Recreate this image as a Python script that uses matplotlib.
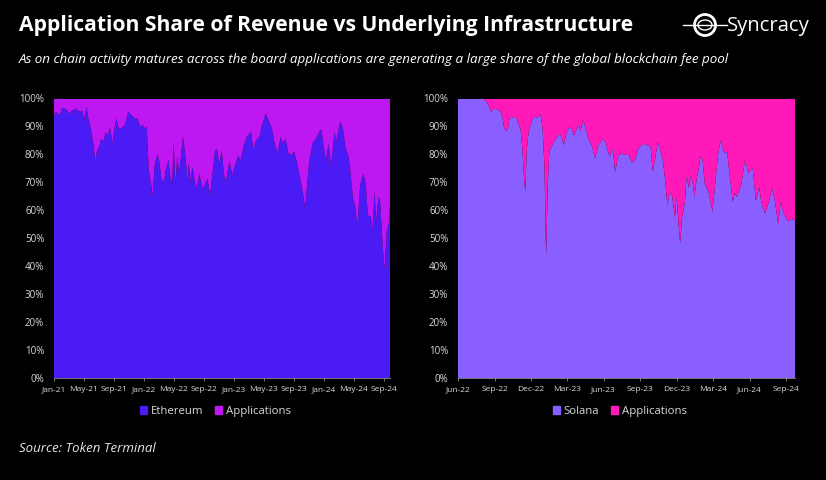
import matplotlib
matplotlib.use('Agg')
import matplotlib.pyplot as plt
import matplotlib.dates as mdates
import matplotlib.patches as mpatches
import numpy as np
import pandas as pd

# days since Jan-21 and Ethereum share
eth_days = [0,7,14,24,34,45,55,64,72,81,89,99,108,114,122,132,139,149,158,168,176,184,191,200,210,216,227,237,245,253,
            262,274,288,301,315,326,338,350,360,366,376,384,392,400,408,419,427,435,445,453,464,470,479,485,492,500,507,
            523,533,542,546,554,561,572,579,589,603,622,633,639,653,660,670,680,689,697,711,723,734,747,757,768,781,799,
            808,819,833,842,858,869,883,896,906,919,927,938,950,964,973,984,998,1008,1018,1027,1035,1048,1058,1072,1084,
            1095,1103,1113,1123,1137,1144,1160,1171,1181,1194,1203,1211,1221,1230,1241,1254,1264,1272,1284,1292,1299,1306,
            1315,1322,1333,1340,1349,1359,1363]
eth_share = [93.4,95.5,94.6,94.3,96.7,96.4,95.5,94.3,95.8,95.8,96.4,95.5,95.2,95.8,92.3,97,92.9,89.3,84.5,77.6,82,82.7,
             85.7,84.5,88,86.3,89.5,84,89.3,92.9,89.3,89.3,90.7,95.2,94,92.9,92.9,89.9,90.5,89.3,89.9,74.4,70.2,65.2,76.2,
             80,77.4,71.4,70.2,74.4,78,72.6,69.3,84.5,69.6,79.2,73.2,86.3,79,70.2,76.8,70,75.6,69.6,67.9,72.9,67.3,71.4,
             65.5,70.2,81.5,82,76.8,81.5,72.6,70.2,77.6,72.6,76.2,79.5,78,82.7,86.3,88,81.5,85.1,86.3,89.9,94.6,92.3,89.3,
             83.3,80.4,86.3,84,85.7,80.4,79.8,81,77.4,71.4,66.7,60.7,70.2,78,83.9,85.1,87.5,89,81.5,77.6,83.9,75.6,88,84.5,
             91.7,89.3,82.7,79.2,72.6,64.9,61.3,54.2,69,73.2,69,58.3,57.7,53,66.7,56,64.9,63,46.4,38.7,52.4,56,65]

# days since Jun-22 and Solana share
sol_days = [0,55,64,72,78,83,90,97,106,112,115,120,125,129,137,144,150,157,162,166,169,172,177,185,193,200,207,212,217,
            221,225,229,234,243,254,260,265,273,279,285,291,298,303,307,314,320,327,335,344,352,364,371,380,388,394,401,
            408,419,429,436,444,452,465,477,483,488,494,501,506,513,519,525,530,536,544,548,552,557,562,569,573,579,583,
            588,593,598,604,608,613,619,628,638,647,653,659,665,669,675,680,689,694,700,711,720,728,734,739,747,755,761,
            770,781,788,795,803,809,816,828,835,845]
sol_share = [100,100,99.8,98.8,97,95.2,96.4,96.2,95.5,92.9,89.9,88.3,88.7,92.9,93.2,93.5,91.7,88.7,81,70.2,66.7,81,88,92.3,
             93.5,93.1,94.3,89.3,75,43.5,69,81,82.7,85.1,87.5,86.3,83.3,88,89.9,89.3,86.7,89.3,90.5,88.3,92.3,89.3,85.7,
             83.3,78.6,83.3,85.7,83.9,79.2,82.1,73.6,79.2,80.4,79.8,79.8,77.1,78,82.1,83.9,83.1,82.7,73.8,78,84.5,82.1,
             78.6,71.4,61.9,65.5,66.1,57.7,64.9,57.1,48.2,57.7,63,72,67.9,72.4,70.2,64.9,70.8,75,79.5,78,69.6,66.7,59.5,
             72.6,81,85.1,81.5,80.4,81,73.8,63,66.1,64.9,69.6,78.3,73.2,74.4,75,63.3,68.3,62.5,58.9,63.7,67.9,63,55,63,
             58.9,56,56.9,56.5]

left_start = '2021-01-01'
left_end = '2024-09-24'
left_ticks = ['2021-01-01','2021-05-01','2021-09-01','2022-01-01','2022-05-01','2022-09-01',
              '2023-01-01','2023-05-01','2023-09-01','2024-01-01','2024-05-01','2024-09-01']
right_start = '2022-06-01'
right_end = '2024-09-23'
right_ticks = ['2022-06-01','2022-09-01','2022-12-01','2023-03-01','2023-06-01','2023-09-01',
               '2023-12-01','2024-03-01','2024-06-01','2024-09-01']
pct_ticks = [0,10,20,30,40,50,60,70,80,90,100]

W, H = 826, 480
plt.rcParams['font.family'] = ['Open Sans', 'DejaVu Sans']


def panel(box, start, end, days, share, ticks, name, col1, col2):
    l, t, r, b = box
    ax = fig.add_axes([l/W, 1-b/H, (r-l)/W, (b-t)/H], facecolor='black')
    x = pd.Timestamp(start) + pd.to_timedelta(days, unit='D')
    share = np.array(share)
    ax.stackplot(x, share, 100-share, colors=[col1, col2], linewidth=0)
    ax.set_xlim(pd.Timestamp(start), pd.Timestamp(end))
    ax.set_ylim(0, 100)
    ax.set_yticks(pct_ticks)
    ax.set_yticklabels([str(p)+'%' for p in pct_ticks])
    ax.set_xticks(pd.to_datetime(ticks))
    ax.xaxis.set_major_formatter(mdates.DateFormatter('%b-%y'))
    ax.tick_params(axis='y', length=0, labelsize=7, labelcolor='#d9d9d9', pad=7)
    ax.tick_params(axis='x', length=2, width=0.6, color='#8c8c8c', labelsize=6, labelcolor='#d9d9d9', pad=4)
    for s in ['top', 'right', 'left']:
        ax.spines[s].set_visible(False)
    ax.spines['bottom'].set_color('#8c8c8c')
    ax.spines['bottom'].set_linewidth(0.6)
    handles = [mpatches.Patch(color=col1, label=name), mpatches.Patch(color=col2, label='Applications')]
    ax.legend(handles=handles, loc='upper center', bbox_to_anchor=(0.48, -0.065), ncol=2, frameon=False,
              fontsize=8.2, labelcolor='#d9d9d9', handlelength=0.6, handleheight=0.7,
              handletextpad=0.35, columnspacing=1.0)
    return ax


fig = plt.figure(figsize=(W/100, H/100), dpi=100, facecolor='black')

panel((54, 98.5, 390, 378), left_start, left_end, eth_days, eth_share, left_ticks, 'Ethereum', '#4A1BF5', '#BE17F2')
panel((458, 98.5, 795, 378), right_start, right_end, sol_days, sol_share, right_ticks, 'Solana', '#8A5FFF', '#FF19B8')

fig.text(19/W, 1-26/H, 'Application Share of Revenue vs Underlying Infrastructure', color='white',
         fontsize=15.2, fontweight='bold', va='center')
fig.text(19/W, 1-60/H, 'As on chain activity matures across the board applications are generating a large share of the global blockchain fee pool',
         color='white', fontsize=9.65, style='italic', va='center')
fig.text(19/W, 1-448/H, 'Source: Token Terminal', color='#e6e6e6', fontsize=9.5, style='italic', va='center')

# logo
logo = fig.add_axes([0, 0, 1, 1], facecolor='none')
logo.set_xlim(0, W)
logo.set_ylim(H, 0)
logo.axis('off')
logo.add_patch(mpatches.Circle((705, 25), 10.5, fill=False, ec='white', lw=2.0))
logo.add_patch(mpatches.Ellipse((705, 25), 14, 10, fill=True, fc='black', ec='white', lw=1.0))
logo.plot([683, 727], [25, 25], color='white', lw=1.0)
logo.text(727, 26, 'Syncracy', color='white', fontsize=14.6, va='center', ha='left')

fig.savefig('out.png', dpi=100, facecolor='black')
